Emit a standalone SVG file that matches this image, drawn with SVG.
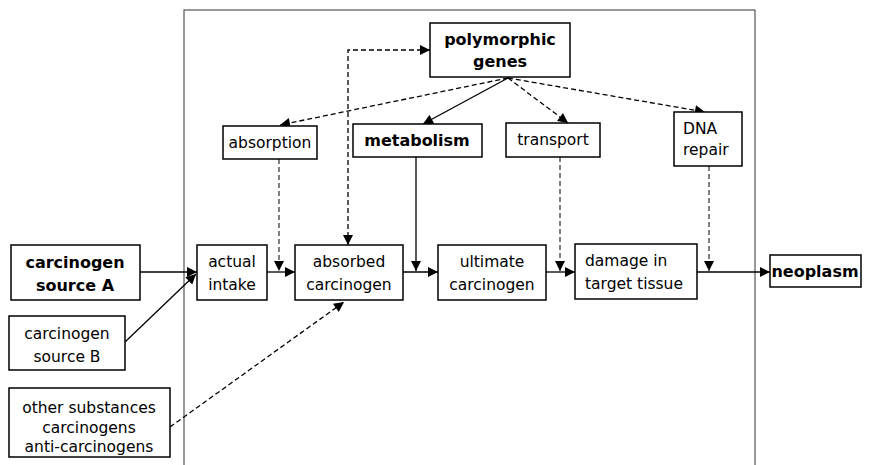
<svg xmlns="http://www.w3.org/2000/svg" width="878" height="465" viewBox="0 0 878 465">
<style>
.box{fill:#fff;stroke:#000;stroke-width:1.5}
.t{font-family:"DejaVu Sans",Verdana,sans-serif;font-size:15.5px;fill:#000;text-anchor:middle}
.b{font-weight:bold;font-size:16px}
.l{text-anchor:start}
.c{fill:none;stroke:#000;stroke-width:1.3}
.d{stroke-dasharray:5,3}
.f{stroke-width:1;stroke-dasharray:5,3}
.frame{fill:none;stroke:#333;stroke-width:1}
</style>
<defs>
<marker id="ah" viewBox="0 0 10 10" refX="10" refY="5" markerWidth="11" markerHeight="10" markerUnits="userSpaceOnUse" orient="auto">
<path d="M0,0 L10,5 L0,10 Z" fill="#000"/>
</marker>
<marker id="as" viewBox="0 0 10 10" refX="0" refY="5" markerWidth="11" markerHeight="10" markerUnits="userSpaceOnUse" orient="auto">
<path d="M10,0 L0,5 L10,10 Z" fill="#000"/>
</marker>
</defs>
<rect class="frame" x="184" y="10" width="571" height="470"/>
<g id="connectors">
<line class="c" x1="140" y1="272" x2="197" y2="272" marker-end="url(#ah)"/>
<line class="c" x1="125" y1="342" x2="196" y2="274" marker-end="url(#ah)"/>
<line class="c d" x1="170" y1="427" x2="344" y2="302" marker-end="url(#ah)"/>
<line class="c" x1="267" y1="272" x2="295" y2="272" marker-end="url(#ah)"/>
<line class="c" x1="403" y1="272" x2="438" y2="272" marker-end="url(#ah)"/>
<line class="c" x1="546" y1="272" x2="575" y2="272" marker-end="url(#ah)"/>
<line class="c" x1="697" y1="272" x2="770" y2="272" marker-end="url(#ah)"/>
<line class="c f" x1="279" y1="159" x2="279" y2="271" marker-end="url(#ah)"/>
<line class="c" x1="416" y1="157" x2="416" y2="271" marker-end="url(#ah)"/>
<line class="c f" x1="560" y1="157" x2="560" y2="271" marker-end="url(#ah)"/>
<line class="c f" x1="709" y1="166" x2="709" y2="271" marker-end="url(#ah)"/>
<polyline class="c d" points="348,245 348,50 430,50" marker-start="url(#as)" marker-end="url(#ah)"/>
<line class="c d" x1="508" y1="78" x2="280" y2="125" marker-end="url(#ah)"/>
<line class="c" x1="508" y1="78" x2="423" y2="124" marker-end="url(#ah)"/>
<line class="c d" x1="508" y1="78" x2="568" y2="123" marker-end="url(#ah)"/>
<line class="c d" x1="508" y1="78" x2="705" y2="112" marker-end="url(#ah)"/>
</g>
<g id="sourceA"><rect class="box" x="11" y="245" width="129" height="55"/><text class="t b" x="75" y="268">carcinogen</text><text class="t b" x="75" y="291">source A</text></g>
<g id="sourceB"><rect class="box" x="9" y="316" width="116" height="54"/><text class="t" x="67" y="339">carcinogen</text><text class="t" x="67" y="362">source B</text></g>
<g id="other"><rect class="box" x="9" y="388" width="161" height="69"/><text class="t" x="89" y="413">other substances</text><text class="t" x="89" y="433">carcinogens</text><text class="t" x="89" y="452">anti-carcinogens</text></g>
<g id="intake"><rect class="box" x="197" y="245" width="70" height="55"/><text class="t" x="232" y="267">actual</text><text class="t" x="232" y="290">intake</text></g>
<g id="absorbed"><rect class="box" x="295" y="245" width="108" height="55"/><text class="t" x="349" y="267">absorbed</text><text class="t" x="349" y="290">carcinogen</text></g>
<g id="ultimate"><rect class="box" x="438" y="245" width="108" height="55"/><text class="t" x="492" y="267">ultimate</text><text class="t" x="492" y="290">carcinogen</text></g>
<g id="damage"><rect class="box" x="575" y="244" width="122" height="55"/><text class="t l" x="585" y="266">damage in</text><text class="t l" x="585" y="289">target tissue</text></g>
<g id="neoplasm"><rect class="box" x="770" y="255" width="91" height="32"/><text class="t b" x="815" y="277">neoplasm</text></g>
<g id="genes"><rect class="box" x="430" y="23" width="140" height="54"/><text class="t b" x="500" y="45">polymorphic</text><text class="t b" x="500" y="67">genes</text></g>
<g id="absorption"><rect class="box" x="223" y="126" width="94" height="33"/><text class="t" x="270" y="148">absorption</text></g>
<g id="metabolism"><rect class="box" x="353" y="124" width="129" height="33"/><text class="t b" x="417" y="146">metabolism</text></g>
<g id="transport"><rect class="box" x="506" y="123" width="94" height="34"/><text class="t" x="553" y="145">transport</text></g>
<g id="dna"><rect class="box" x="674" y="112" width="68" height="54"/><text class="t l" x="683" y="134">DNA</text><text class="t l" x="683" y="155">repair</text></g>
</svg>
